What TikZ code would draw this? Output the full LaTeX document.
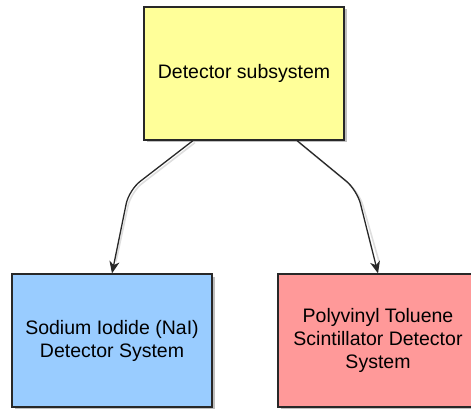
\documentclass[tikz,border=0pt]{standalone}
\usepackage{fontspec}
\setmainfont{Liberation Sans}
\usetikzlibrary{shadows,arrows.meta}
\definecolor{yel}{RGB}{255,255,153}
\definecolor{blu}{RGB}{153,204,255}
\definecolor{pnk}{RGB}{255,153,153}
\definecolor{edgec}{RGB}{40,40,40}
\begin{document}
\begin{tikzpicture}[x=1pt,y=-1pt,
  box/.style={draw=edgec, line width=1.2pt, minimum width=200pt, minimum height=133pt,
    inner sep=0pt, align=center, font=\fontsize{19.5}{23}\selectfont,
    drop shadow={shadow xshift=2.5pt, shadow yshift=-2.5pt, opacity=0.25, fill=black}},
  conn/.style={draw=edgec, line width=1.3pt, rounded corners=14pt,
    -{Stealth[length=12pt,width=10pt,inset=3.5pt]}},
  connshadow/.style={draw=black, opacity=0.13, line width=1.6pt, rounded corners=14pt}]
\useasboundingbox (0,0) rectangle (471,409);
\fill[white] (0,0) rectangle (471,409);
\node[box, fill=yel] (top) at (244,73.5) {Detector subsystem};
\node[box, fill=blu] (left) at (112,340.5) {Sodium Iodide (NaI)\\Detector System};
\node[box, fill=pnk] (right) at (378,340.5) {Polyvinyl Toluene\\Scintillator Detector\\System};
\coordinate (lbend) at (129,190);
\coordinate (rbend) at (357,190);
\draw[connshadow] ([xshift=-49pt,yshift=-2pt]top.south) -- ([xshift=2pt,yshift=-2pt]lbend) -- ([xshift=4pt,yshift=12pt]left.north);
\draw[connshadow] ([xshift=55pt,yshift=-2pt]top.south) -- ([xshift=2pt,yshift=-2pt]rbend) -- ([xshift=1pt,yshift=12pt]right.north);
\draw[conn] ([xshift=-51pt]top.south) -- (lbend) -- (left.north);
\draw[conn] ([xshift=53pt]top.south) -- (rbend) -- (right.north);
\end{tikzpicture}
\end{document}
